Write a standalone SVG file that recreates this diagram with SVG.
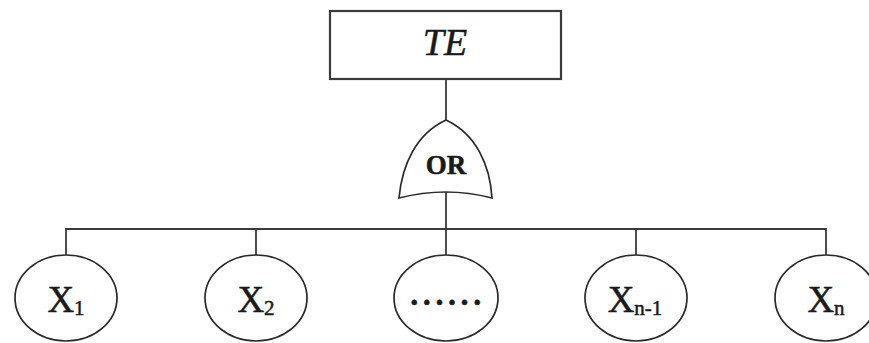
<svg xmlns="http://www.w3.org/2000/svg" width="869" height="343" viewBox="0 0 869 343">
  <style>
    .edge { fill: none; stroke: #3a3a3a; stroke-width: 1.8; }
    .box { fill: #ffffff; stroke: #3a3a3a; stroke-width: 2.2; }
    .evt { fill: #ffffff; stroke: #2a2a2a; stroke-width: 1.7; }
    .lbl { font-family: "Liberation Serif", "Times New Roman", serif; fill: #1a1a1a; stroke: #1a1a1a; stroke-width: 0.5; }
    .sub { font-size: 21px; }
  </style>
  <rect width="869" height="343" fill="#ffffff"/>

  <g id="connectors">
    <line class="edge" x1="446" y1="79" x2="446" y2="121" stroke="#777777" stroke-width="2.2"/>
    <line class="edge" x1="446" y1="192" x2="446" y2="229" stroke="#1e1e1e" stroke-width="3"/>
    <line class="edge" x1="446" y1="229" x2="446" y2="256" stroke="#888888" stroke-width="2.2"/>
    <polyline class="edge" points="66,256 66,229 826,229 826,256"/>
    <line class="edge" x1="256" y1="229" x2="256" y2="256"/>
    <line class="edge" x1="636" y1="229" x2="636" y2="256"/>
  </g>

  <g id="top-event">
    <rect class="box" x="330" y="11" width="231" height="68"/>
    <text class="lbl" x="445" y="55" font-size="38" font-style="italic" text-anchor="middle">TE</text>
  </g>

  <g id="or-gate">
    <path class="evt" d="M399,198 C402,165 416,134 446,120 C476,134 490,165 492,198 Q446,186 399,198 Z"/>
    <text class="lbl" x="446" y="174" font-size="27" font-weight="bold" text-anchor="middle">OR</text>
  </g>

  <g id="x1">
    <ellipse class="evt" cx="66" cy="298" rx="51" ry="43"/>
    <text class="lbl" x="66" y="312" font-size="37" text-anchor="middle">X<tspan class="sub" dy="3">1</tspan></text>
  </g>

  <g id="x2">
    <ellipse class="evt" cx="256" cy="298" rx="51" ry="43"/>
    <text class="lbl" x="256" y="312" font-size="37" text-anchor="middle">X<tspan class="sub" dy="3">2</tspan></text>
  </g>

  <g id="xdots">
    <ellipse class="evt" cx="446" cy="298" rx="52" ry="43"/>
    <text class="lbl" x="448" y="305" font-size="32" font-weight="bold" letter-spacing="4.6" text-anchor="middle">......</text>
  </g>

  <g id="xn-1">
    <ellipse class="evt" cx="636" cy="298" rx="51" ry="43"/>
    <text class="lbl" x="635" y="312" font-size="37" text-anchor="middle">X<tspan class="sub" dy="3">n-1</tspan></text>
  </g>

  <g id="xn">
    <ellipse class="evt" cx="826" cy="298" rx="51" ry="43"/>
    <text class="lbl" x="826" y="312" font-size="37" text-anchor="middle">X<tspan class="sub" dy="3">n</tspan></text>
  </g>
</svg>
